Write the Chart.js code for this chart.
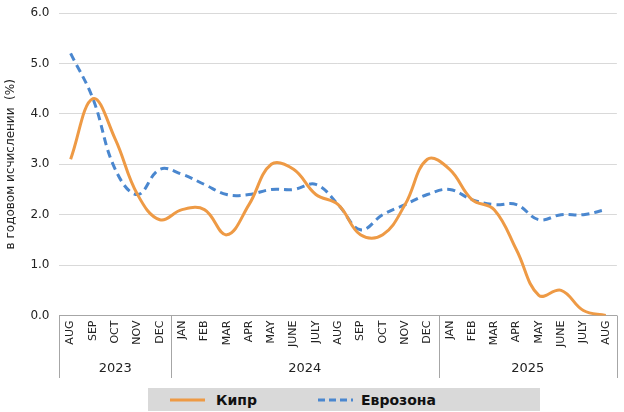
<!DOCTYPE html>
<html>
<head>
<meta charset="utf-8">
<script src="https://cdn.jsdelivr.net/npm/chart.js@4"></script>
<style>
  body { margin: 0; background: #fff; }
  #wrap { position: relative; width: 624px; height: 412px; }
  #legend {
    position: absolute; left: 148px; top: 388px; width: 392px; height: 23px;
    background: #D9D9D9; font: bold 14px "DejaVu Sans", sans-serif; color: #111;
    display: flex; align-items: center;
  }
  #legend svg { display: block; }
</style>
</head>
<body>
<div id="wrap">
  <canvas id="c" width="624" height="412"></canvas>
  <div id="legend">
    <svg width="68" height="10"><line x1="22" y1="5" x2="57" y2="5" stroke="#EE9A45" stroke-width="3"/></svg>
    <span>Кипр</span>
    <svg width="98" height="10"><line x1="61" y1="5" x2="96" y2="5" stroke="#4A87CF" stroke-width="3" stroke-dasharray="7,4"/></svg>
    <span style="margin-left:6px">Еврозона</span>
  </div>
</div>
<script>
const months = ['AUG', 'SEP', 'OCT', 'NOV', 'DEC',
  'JAN', 'FEB', 'MAR', 'APR', 'MAY', 'JUNE', 'JULY', 'AUG', 'SEP', 'OCT', 'NOV', 'DEC',
  'JAN', 'FEB', 'MAR', 'APR', 'MAY', 'JUNE', 'JULY', 'AUG'];
const yearGroups = [['2023', 0, 4], ['2024', 5, 16], ['2025', 17, 24]];
const cyprus = [3.1, 4.3, 3.5, 2.4, 1.9, 2.1, 2.1, 1.6, 2.2, 3.0, 2.9, 2.4, 2.2, 1.6, 1.6, 2.2, 3.1,
  2.9, 2.3, 2.1, 1.3, 0.4, 0.5, 0.1, 0.0];
const eurozone = [5.2, 4.3, 2.9, 2.4, 2.9, 2.8, 2.6, 2.4, 2.4, 2.5, 2.5, 2.6, 2.2, 1.7, 2.0, 2.2, 2.4,
  2.5, 2.3, 2.2, 2.2, 1.9, 2.0, 2.0, 2.1];
const yTicks = [0, 1, 2, 3, 4, 5, 6];

// year row under the month labels, with separators at group edges
const yearRow = {
  id: 'yearRow',
  afterDraw(chart) {
    const ctx = chart.ctx;
    const x = chart.scales.x;
    const top = chart.chartArea.bottom;
    const half = (x.getPixelForValue(1) - x.getPixelForValue(0)) / 2;
    ctx.save();
    ctx.strokeStyle = '#A6A6A6';
    ctx.lineWidth = 1;
    ctx.fillStyle = '#222';
    ctx.font = '13px "DejaVu Sans", sans-serif';
    ctx.textAlign = 'center';
    ctx.textBaseline = 'middle';
    yearGroups.forEach(([label, from, to], i) => {
      const l = x.getPixelForValue(from) - half;
      const r = x.getPixelForValue(to) + half;
      ctx.beginPath();
      if (i === 0) { ctx.moveTo(Math.round(l) + 0.5, top); ctx.lineTo(Math.round(l) + 0.5, 378); }
      ctx.moveTo(Math.round(r) + 0.5, top); ctx.lineTo(Math.round(r) + 0.5, 378);
      ctx.stroke();
      ctx.fillText(label, (l + r) / 2, 369);
    });
    ctx.restore();
  }
};

new Chart(document.getElementById('c'), {
  type: 'line',
  data: {
    labels: months,
    datasets: [{
      label: 'Кипр',
      data: cyprus,
      borderColor: '#EE9A45',
      borderWidth: 3,
      tension: 0.4,
      pointRadius: 0,
    }, {
      label: 'Еврозона',
      data: eurozone,
      borderColor: '#4A87CF',
      borderWidth: 3,
      borderDash: [8, 5],
      tension: 0.4,
      pointRadius: 0,
    }],
  },
  options: {
    responsive: false,
    animation: false,
    layout: { padding: { top: 0, right: 4, bottom: 60, left: 4 } },
    plugins: { legend: { display: false }, tooltip: { enabled: false } },
    scales: {
      x: {
        offset: true,
        grid: { display: false, drawTicks: false },
        border: { display: true, color: '#A6A6A6' },
        ticks: {
          autoSkip: false, maxRotation: 90, minRotation: 90, padding: 5,
          color: '#222', font: { family: 'DejaVu Sans', size: 11 },
        },
      },
      y: {
        min: 0, max: 6,
        afterBuildTicks: (s) => { s.ticks = yTicks.map(v => ({ value: v })); },
        grid: { color: '#D9D9D9', drawTicks: false },
        border: { display: false },
        ticks: {
          padding: 10, color: '#222', font: { family: 'DejaVu Sans', size: 12, lineHeight: 0.5 },
          callback: (v) => v.toFixed(1),
        },
        title: {
          display: true, text: 'в годовом исчислении  (%)', color: '#222',
          font: { family: 'DejaVu Sans', size: 12 }, padding: { top: 0, bottom: 2 },
        },
      },
    },
  },
  plugins: [yearRow],
});
</script>
</body>
</html>
